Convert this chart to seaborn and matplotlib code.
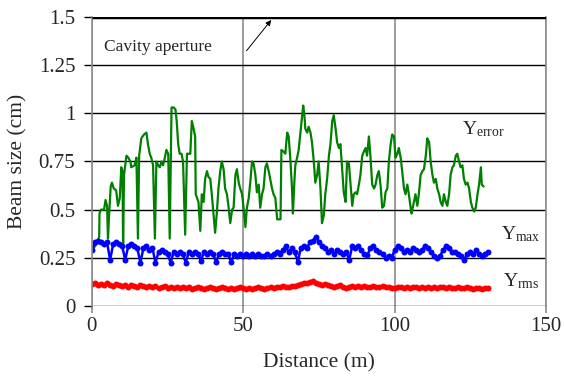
import numpy as np
import pandas as pd
import matplotlib
matplotlib.use("Agg")
import matplotlib.pyplot as plt
import seaborn as sns

# -----------------------------
# Data
# -----------------------------
err_dist = [0.5, 1.5, 2.4, 2.5, 3.0, 4.0, 4.5, 5.0, 5.3, 5.7, 6.2, 6.6, 7.2, 8.0, 8.6, 9.2,
            9.7, 10.1, 10.3, 10.6, 11.4, 12.0, 12.7, 13.0, 14.1, 14.7, 15.2, 15.6, 16.3,
            17.2, 18.0, 18.5, 19.1, 19.6, 20.2, 20.8, 21.3, 21.9, 22.4, 23.0, 23.5, 24.1,
            24.6, 25.2, 25.7, 26.3, 27.0, 27.6, 28.0, 28.5, 29.0, 29.6, 30.1, 30.8,
            31.4, 32.5, 33.0, 33.6, 34.1, 34.3, 35.2, 35.8, 36.3, 36.9, 37.4, 38.0, 38.5,
            39.1, 39.6, 40.2, 40.7, 41.3, 41.8, 42.4, 42.9, 43.5, 44.0, 44.6, 45.1, 45.7,
            46.3, 46.8, 47.4, 47.9, 48.5, 49.0, 49.6, 50.1, 50.7, 51.2, 51.8, 52.3, 52.9,
            53.4, 54.0, 54.5, 55.1, 55.6, 56.2, 56.7, 57.3, 57.8, 58.4, 58.9, 59.5, 60.0,
            60.6, 61.2, 61.7, 62.3, 62.6, 63.4, 63.9, 64.5, 65.0, 65.6, 66.1, 66.4, 66.9,
            67.2, 67.8, 68.3, 68.9, 69.4, 69.8, 70.2, 70.5, 71.1, 71.6, 72.2, 72.7, 73.3,
            73.8, 74.4, 74.9, 75.5, 76.0, 76.6, 77.1, 77.7, 78.3, 78.8, 79.4, 79.9, 80.5,
            81.0, 81.6, 82.1, 82.7, 83.2, 83.8, 84.3, 84.9, 85.4, 86.0, 86.5, 87.1, 87.6,
            88.2, 88.7, 89.3, 89.8, 90.4, 90.9, 91.5, 92.0, 92.6, 93.2, 93.7, 94.3, 94.8,
            95.4, 95.9, 96.5, 97.0, 97.6, 98.1, 98.7, 99.2, 99.8, 100.3, 100.9, 101.4,
            102.0, 102.5, 103.1, 103.6, 104.2, 104.7, 105.3, 105.6, 106.4, 106.9, 107.5,
            108.0, 108.6, 109.2, 109.7, 110.3, 110.8, 111.4, 111.9, 112.5, 113.0, 113.6,
            114.1, 114.7, 115.2, 115.8, 116.3, 116.9, 117.4, 118.0, 118.5, 119.1, 119.6,
            120.2, 120.7, 121.3, 121.8, 122.4, 122.9, 123.5, 124.1, 124.6, 125.2, 125.7,
            126.3, 126.8, 127.4, 127.9, 128.5, 128.8, 129.4]
y_error = [0.30, 0.32, 0.36, 0.48, 0.50, 0.50, 0.55, 0.52, 0.35, 0.48, 0.62, 0.64, 0.61, 0.60, 0.52, 0.56,
           0.72, 0.70, 0.30, 0.68, 0.78, 0.77, 0.75, 0.72, 0.73, 0.77, 0.35, 0.78, 0.87,
           0.89, 0.90, 0.84, 0.79, 0.77, 0.73, 0.35, 0.75, 0.73, 0.72, 0.75, 0.73, 0.77,
           0.81, 0.79, 0.35, 1.03, 1.03, 1.02, 0.96, 0.84, 0.79, 0.79, 0.75, 0.37,
           0.79, 0.79, 0.96, 0.92, 0.88, 0.58, 0.54, 0.39, 0.58, 0.54, 0.66, 0.70, 0.67,
           0.66, 0.58, 0.47, 0.38, 0.49, 0.61, 0.70, 0.75, 0.71, 0.61, 0.58, 0.52, 0.43,
           0.50, 0.51, 0.68, 0.71, 0.64, 0.61, 0.58, 0.51, 0.41, 0.51, 0.56, 0.64, 0.75,
           0.74, 0.68, 0.59, 0.63, 0.51, 0.58, 0.61, 0.72, 0.74, 0.70, 0.66, 0.61, 0.58,
           0.56, 0.45, 0.45, 0.45, 0.81, 0.80, 0.79, 0.90, 0.88, 0.75, 0.61, 0.48, 0.65,
           0.73, 0.77, 0.81, 0.90, 0.97, 1.04, 0.99, 0.92, 0.90, 0.93, 0.90, 0.85, 0.75,
           0.64, 0.68, 0.75, 0.61, 0.43, 0.47, 0.58, 0.66, 0.78, 0.84, 0.96, 0.99, 0.92,
           0.85, 0.82, 0.84, 0.70, 0.59, 0.54, 0.75, 0.74, 0.64, 0.52, 0.58, 0.59, 0.58,
           0.63, 0.68, 0.78, 0.80, 0.82, 0.78, 0.88, 0.78, 0.63, 0.61, 0.63, 0.68, 0.70,
           0.62, 0.51, 0.52, 0.59, 0.61, 0.75, 0.84, 0.89, 0.88, 0.77, 0.79, 0.82,
           0.77, 0.70, 0.61, 0.58, 0.63, 0.58, 0.51, 0.48, 0.54, 0.58, 0.52,
           0.58, 0.68, 0.70, 0.71, 0.78, 0.87, 0.85, 0.75, 0.68, 0.64, 0.66,
           0.61, 0.58, 0.54, 0.52, 0.58, 0.54, 0.52, 0.58, 0.68, 0.72, 0.73,
           0.78, 0.79, 0.75, 0.72, 0.73, 0.66, 0.63, 0.64, 0.61, 0.54, 0.51,
           0.49, 0.51, 0.58, 0.63, 0.72, 0.63, 0.62]

dist = list(range(0, 132))
y_max = [0.29, 0.33, 0.34, 0.33, 0.32, 0.33, 0.24, 0.32, 0.33, 0.32, 0.31, 0.24, 0.31, 0.32, 0.31, 0.30,
         0.225, 0.30, 0.31, 0.29, 0.30, 0.225, 0.28, 0.29, 0.28, 0.27, 0.225, 0.28, 0.27, 0.28, 0.27,
         0.225, 0.28, 0.27, 0.28, 0.27, 0.235, 0.28, 0.27, 0.28, 0.27, 0.23, 0.27, 0.28, 0.27, 0.27,
         0.23, 0.27, 0.26, 0.27, 0.26, 0.27, 0.26, 0.27, 0.26, 0.27, 0.26, 0.26, 0.27, 0.26, 0.27,
         0.28, 0.27, 0.29, 0.31, 0.28, 0.30, 0.28, 0.23, 0.30, 0.31, 0.30, 0.33, 0.34, 0.36, 0.33,
         0.31, 0.30, 0.28, 0.29, 0.27, 0.29, 0.28, 0.27, 0.28, 0.24, 0.31, 0.30, 0.31, 0.29, 0.27,
         0.265, 0.30, 0.31, 0.29, 0.28, 0.27, 0.25, 0.26, 0.25, 0.29, 0.31, 0.30, 0.28, 0.29, 0.28,
         0.30, 0.29, 0.28, 0.29, 0.31, 0.30, 0.28, 0.26, 0.25, 0.26, 0.29, 0.31, 0.30, 0.28, 0.28,
         0.27, 0.26, 0.24, 0.27, 0.28, 0.27, 0.29, 0.27, 0.26, 0.27, 0.28]
y_rms = [0.115, 0.12, 0.11, 0.115, 0.11, 0.12, 0.11, 0.105, 0.115, 0.11, 0.105, 0.11, 0.10, 0.11,
         0.105, 0.10, 0.11, 0.105, 0.10, 0.105, 0.10, 0.105, 0.095, 0.10, 0.105, 0.095, 0.10, 0.095,
         0.10, 0.095, 0.10, 0.095, 0.10, 0.09, 0.095, 0.10, 0.095, 0.09, 0.095, 0.10, 0.095, 0.09,
         0.095, 0.10, 0.095, 0.09, 0.095, 0.09, 0.095, 0.10, 0.095, 0.09, 0.095, 0.09, 0.095, 0.10,
         0.095, 0.09, 0.095, 0.10, 0.095, 0.10, 0.10, 0.105, 0.10, 0.10, 0.105, 0.105, 0.11, 0.115,
         0.12, 0.12, 0.125, 0.13, 0.12, 0.115, 0.11, 0.115, 0.11, 0.105, 0.10, 0.105, 0.11, 0.10,
         0.095, 0.10, 0.105, 0.10, 0.105, 0.10, 0.105, 0.10, 0.10, 0.105, 0.10, 0.10, 0.105, 0.10,
         0.10, 0.095, 0.095, 0.10, 0.10, 0.095, 0.10, 0.095, 0.10, 0.10, 0.095, 0.10, 0.095, 0.10,
         0.095, 0.10, 0.095, 0.10, 0.10, 0.095, 0.10, 0.095, 0.095, 0.10, 0.095, 0.095, 0.10,
         0.095, 0.09, 0.095, 0.095, 0.09, 0.095, 0.095]

aperture_x = [0, 150]
aperture_y = [1.5, 1.5]

# -----------------------------
# Style
# -----------------------------
sns.set_style("white")
plt.rcParams['font.family'] = ['Liberation Serif', 'DejaVu Serif']
plt.rcParams['mathtext.fontset'] = 'custom'
plt.rcParams['mathtext.rm'] = 'Liberation Serif'
plt.rcParams['mathtext.it'] = 'Liberation Serif:italic'

fig = plt.figure(figsize=(5.64, 3.84), dpi=100)
ax = fig.add_axes([0.163, 0.203, 0.805, 0.753])

err_df = pd.DataFrame({'x': err_dist, 'y': y_error})
beam_df = pd.DataFrame({'x': dist, 'ymax': y_max, 'yrms': y_rms})

sns.lineplot(data=err_df, x='x', y='y', sort=False, color='#008000', lw=1.6, ax=ax)
sns.lineplot(data=beam_df, x='x', y='ymax', color='#0000ff', lw=1.8, marker='o',
             markersize=4.3, markeredgewidth=0, ax=ax)
sns.lineplot(data=beam_df, x='x', y='yrms', color='#ff0000', lw=1.8, marker='o',
             markersize=4.3, markeredgewidth=0, ax=ax)
ax.plot(aperture_x, aperture_y, color='black', lw=2.5, solid_capstyle='butt', zorder=5)

ax.set_xlim(0, 150)
ax.set_ylim(0, 1.5)
ax.set_xticks([0, 50, 100, 150])
ax.set_yticks([0, 0.25, 0.5, 0.75, 1, 1.25, 1.5])
ax.set_yticklabels(['0', '0.25', '0.5', '0.75', '1', '1.25', '1.5'])

ax.grid(axis='y', color='black', lw=1.0)
ax.grid(axis='x', color='#8c8c8c', lw=1.2)
ax.set_axisbelow(True)
for side in ['top', 'bottom']:
    ax.spines[side].set_visible(False)
for side in ['left', 'right']:
    ax.spines[side].set_color('#8c8c8c')
    ax.spines[side].set_linewidth(1.2)

ax.tick_params(axis='y', direction='out', length=6, color='black', width=1.0,
               labelsize=15, pad=6, left=True)
ax.tick_params(axis='x', direction='out', length=5, color='#8c8c8c', width=1.2,
               labelsize=15, pad=3, bottom=True)

ax.set_xlabel("Distance (m)", fontsize=15.5, labelpad=12)
ax.set_ylabel("Beam size (cm)", fontsize=15.5, labelpad=8)

ax.text(4, 1.345, "Cavity aperture", fontsize=12.5, va='center', ha='left')
ax.annotate("", xy=(59.8, 1.495), xytext=(50.5, 1.313),
            arrowprops=dict(arrowstyle='-|>', color='black', lw=0.7, mutation_scale=8))

ax.text(122.3, 0.92, r"$\mathrm{Y}_{\mathrm{error}}$", fontsize=14, va='center', ha='left')
ax.text(135, 0.375, r"$\mathrm{Y}_{\mathrm{max}}$", fontsize=14, va='center', ha='left')
ax.text(135.8, 0.13, r"$\mathrm{Y}_{\mathrm{rms}}$", fontsize=14, va='center', ha='left')

plt.savefig("out.png", dpi=100)
